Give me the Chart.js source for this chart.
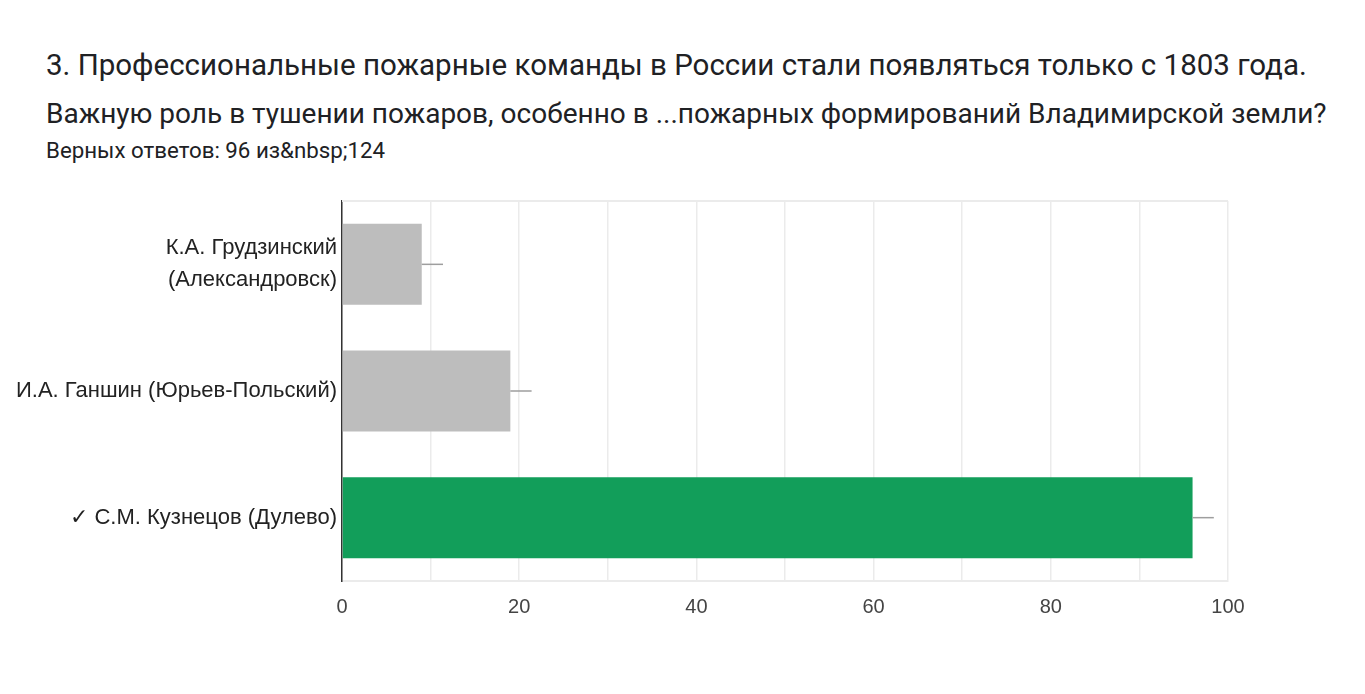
<!DOCTYPE html>
<html>
<head>
<meta charset="utf-8">
<script src="https://cdn.jsdelivr.net/npm/chart.js@4"></script>
<style>
  body { margin: 0; background: #fff; }
  #wrap { position: relative; width: 1365px; height: 694px; }
  #chart { position: absolute; left: 0; top: 0; }
  .t { position: absolute; left: 46px; font-family: Roboto, sans-serif; color: #202124; white-space: nowrap; }
  #t1 { top: 48px; font-size: 29.5px; }
  #t2 { top: 97px; font-size: 28px; }
  #t3 { top: 137px; font-size: 22.3px; }
</style>
</head>
<body>
<div id="wrap">
  <div class="t" id="t1">3. Профессиональные пожарные команды в России стали появляться только с 1803 года.</div>
  <div class="t" id="t2">Важную роль в тушении пожаров, особенно в ...пожарных формирований Владимирской земли?</div>
  <div class="t" id="t3">Верных ответов: 96 из&amp;nbsp;124</div>
  <canvas id="chart" width="1365" height="694"></canvas>
</div>
<script>
// answers and counts
var categories = [['К.А. Грудзинский', '(Александровск)'], 'И.А. Ганшин (Юрьев-Польский)', '✓ С.М. Кузнецов (Дулево)'];
var counts = [9, 19, 96];
var errors = [2.4, 2.4, 2.4];
var barColors = ['#bdbdbd', '#bdbdbd', '#129e5a'];
var xTicks = [0, 20, 40, 60, 80, 100];

// thin whiskers to the right of each bar
var errorBars = {
    id: 'errorBars',
    afterDatasetsDraw: function(chart) {
        var ctx = chart.ctx;
        var x = chart.scales.x;
        var meta = chart.getDatasetMeta(0);
        ctx.save();
        ctx.strokeStyle = '#9e9e9e';
        ctx.lineWidth = 1.5;
        meta.data.forEach(function(bar, i) {
            ctx.beginPath();
            ctx.moveTo(x.getPixelForValue(counts[i]), bar.y);
            ctx.lineTo(x.getPixelForValue(counts[i] + errors[i]), bar.y);
            ctx.stroke();
        });
        ctx.restore();
    }
};

// light frame line on top of plot
var topLine = {
    id: 'topLine',
    beforeDatasetsDraw: function(chart) {
        var a = chart.chartArea;
        var ctx = chart.ctx;
        ctx.save();
        ctx.strokeStyle = '#ebebeb';
        ctx.lineWidth = 2;
        ctx.beginPath();
        ctx.moveTo(a.left, a.top);
        ctx.lineTo(a.right, a.top);
        ctx.stroke();
        ctx.restore();
    }
};

new Chart(document.getElementById('chart'), {
    type: 'bar',
    data: {
        labels: categories,
        datasets: [{
            data: counts,
            backgroundColor: barColors,
            categoryPercentage: 1,
            barPercentage: 0.64
        }]
    },
    plugins: [errorBars, topLine],
    options: {
        indexAxis: 'y',
        responsive: false,
        animation: false,
        layout: { padding: { left: 0, top: 201, right: 137, bottom: 63 } },
        plugins: { legend: { display: false }, tooltip: { enabled: false } },
        scales: {
            x: {
                min: 0,
                max: 100,
                afterFit: function(s) { s.height = 50; },
                afterBuildTicks: function(s) {
                    s.ticks = [];
                    for (var v = 0; v <= 100; v += 10) s.ticks.push({ value: v });
                },
                grid: { color: '#ebebeb', lineWidth: 1.5, drawTicks: false },
                border: { color: '#ebebeb', width: 2 },
                ticks: {
                    padding: 14,
                    color: '#444',
                    font: { family: 'Liberation Sans, Arial', size: 20 },
                    autoSkip: false,
                    maxRotation: 0,
                    callback: function(v) { return xTicks.indexOf(v) >= 0 ? v : ''; }
                }
            },
            y: {
                afterFit: function(s) { s.width = 342; },
                grid: { display: false, drawTicks: false },
                border: { color: '#333', width: 1.5 },
                ticks: {
                    padding: 5,
                    color: '#222',
                    font: { family: 'Liberation Sans, Arial', size: 22, lineHeight: 1.45 }
                }
            }
        }
    }
});
</script>
</body>
</html>
